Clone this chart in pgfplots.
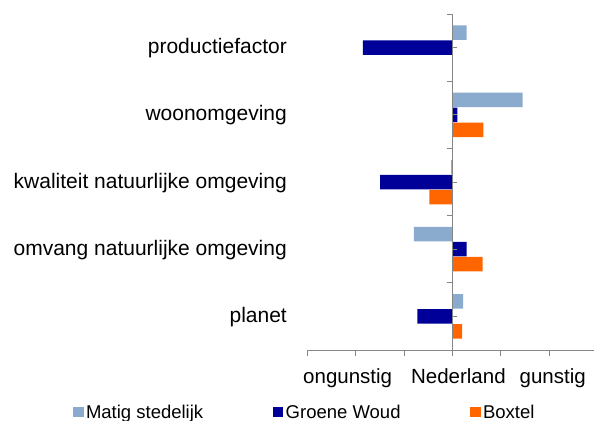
\documentclass[border=0pt]{standalone}
\usepackage{pgfplots}
\pgfplotsset{compat=1.18}
\usepackage{fontspec}
\setmainfont{Liberation Sans}
\definecolor{matig}{RGB}{138,170,206}
\definecolor{groene}{RGB}{0,0,153}
\definecolor{boxtel}{RGB}{255,102,0}
\definecolor{axgray}{RGB}{134,134,134}

% y: 5 = top category
\pgfplotstableread{
y matig groene boxtel
5  0.29 -1.86  0
4  1.45  0.10  0.64
3 -0.03 -1.50 -0.48
2 -0.80  0.29  0.62
1  0.22 -0.73  0.20
}\data

\begin{document}
\begin{tikzpicture}
\useasboundingbox (0,0) rectangle (594bp,-421bp);
\begin{axis}[
    at={(307.7bp,-350bp)}, anchor=south west,
    scale only axis, width=286.3bp, height=336bp,
    xmin=-3, xmax=2.928, ymin=0.5, ymax=5.5,
    xbar, bar width=14.5bp,
    axis x line*=bottom, axis y line*=left,
    x axis line style={axgray, line width=1bp, -},
    y axis line style={draw=none},
    xtick={-3,-2,-1,0,1,2}, xticklabels={},
    tick align=outside, major tick length=5.7bp,
    xtick style={axgray, line width=1bp},
    ytick={1,2,3,4,5},
    yticklabels={planet, omvang natuurlijke omgeving, kwaliteit natuurlijke omgeving, woonomgeving, productiefactor},
    ytick style={draw=none},
    yticklabel style={anchor=mid east, inner sep=0pt, xshift=-15bp, yshift=-3.5bp,
        font=\fontsize{21bp}{24bp}\selectfont},
    xlabel={ongunstig\hspace{19bp}Nederland\hspace{14bp}gunstig},
    xlabel style={at={(axis description cs:0.478,0)}, anchor=base, yshift=-33.3bp,
        inner sep=0pt, font=\fontsize{20.5bp}{24bp}\selectfont},
    legend style={at={(axis description cs:-0.0094,-0.185)}, anchor=center,
        draw=none, fill=none, legend columns=3, inner sep=0pt,
        font=\fontsize{18.5bp}{22bp}\selectfont,
        nodes={inner sep=2.5bp},
        /tikz/every even column/.append style={column sep=67bp}},
    legend image code/.code={\fill[#1] (0bp,-5.25bp) rectangle (10.5bp,5.25bp);},
]
\addplot[fill=matig, draw=none, bar shift=15bp] table[x=matig, y=y]{\data};
\addplot[fill=groene, draw=none, bar shift=0bp] table[x=groene, y=y]{\data};
\addplot[fill=boxtel, draw=none, bar shift=-15bp] table[x=boxtel, y=y]{\data};
\legend{Matig stedelijk, Groene Woud, Boxtel}

\draw[axgray, line width=1bp] (axis cs:0,0.5) -- (axis cs:0,5.5);
\pgfplotsinvokeforeach{0.5,1.5,2.5,3.5,4.5,5.5}{
  \draw[axgray, line width=1bp] (axis cs:0,#1) -- ++(-5.7bp,0pt);}
\pgfplotsinvokeforeach{1,2,3,4,5}{
  \draw[axgray, line width=1bp] (axis cs:0,#1) -- ++(4.3bp,0pt);}
\end{axis}
\end{tikzpicture}
\end{document}
